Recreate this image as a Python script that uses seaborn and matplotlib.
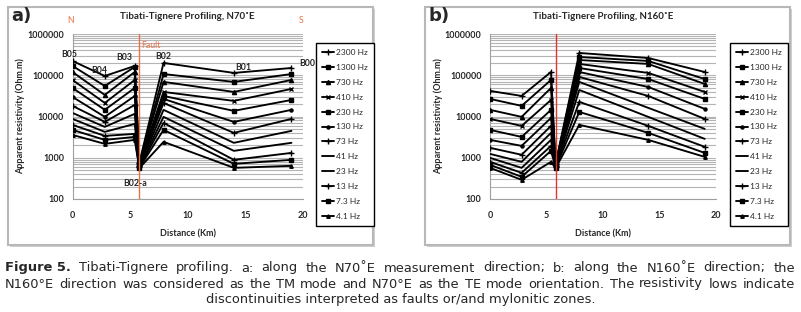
import numpy as np
import pandas as pd
import matplotlib
matplotlib.use('Agg')
import matplotlib.pyplot as plt
import matplotlib.patches as patches
import seaborn as sns

# stations along the profile (km)
stations = [0, 2.8, 5.4, 5.8, 7.9, 14, 19]
freqs = ['2300 Hz', '1300 Hz', '730 Hz', '410 Hz', '230 Hz', '130 Hz',
         '73 Hz', '41 Hz', '23 Hz', '13 Hz', '7.3 Hz', '4.1 Hz']
markers = ['+', 's', '^', 'x', 's', 'o', '+', '', '', '+', 's', '^']
msizes = [4, 3, 3, 3, 2.2, 2.2, 4, 0, 0, 4, 3, 2.5]

# apparent resistivity (Ohm.m), N70E, one row per frequency
rho_a = [
    [222000, 96000, 168000, 760, 199000, 114000, 150000],
    [168000, 55000, 159000, 740, 107000, 69000, 107000],
    [120000, 33300, 120000, 720, 69000, 39400, 77000],
    [77000, 21300, 77000, 700, 39400, 23900, 46600],
    [49300, 14500, 49300, 680, 31500, 13700, 25200],
    [29800, 9800, 31500, 660, 26700, 7400, 14500],
    [18100, 7400, 19100, 640, 21300, 4010, 8750],
    [12200, 5600, 11600, 620, 14500, 2300, 4480],
    [8750, 4240, 6620, 600, 9800, 1470, 2300],
    [6260, 3390, 3790, 590, 7000, 890, 1310],
    [4740, 2710, 3200, 575, 4740, 712, 890],
    [3580, 2170, 2710, 560, 2430, 569, 637],
]

# apparent resistivity (Ohm.m), N160E
rho_b = [
    [41700, 31500, 120000, 700, 347000, 262000, 120000],
    [26700, 18100, 77000, 690, 277000, 222000, 81000],
    [14500, 9800, 49300, 680, 234000, 188000, 61500],
    [8750, 5920, 25200, 670, 188000, 114000, 39400],
    [4740, 3200, 14500, 660, 150000, 81000, 26700],
    [2710, 1940, 9250, 650, 120000, 52000, 15300],
    [1740, 1180, 5920, 640, 91000, 31500, 8750],
    [1240, 796, 4010, 630, 69000, 16200, 5010],
    [995, 569, 2710, 615, 44000, 9800, 2870],
    [796, 431, 1940, 600, 22600, 5920, 1840],
    [673, 345, 1470, 580, 12900, 4010, 1310],
    [569, 292, 796, 560, 6260, 2710, 1050],
]

sns.set_style('white')
plt.rcParams['font.family'] = ['Lato', 'DejaVu Sans']

W, H = 801, 312
fig = plt.figure(figsize=(W / 100, H / 100), dpi=100)


def fx(px):
    return px / W


def fy(py):
    return 1 - py / H


# panel frames (behind everything)
for left in [8, 425]:
    fig.patches.append(patches.Rectangle((fx(left + 2), fy(247)), fx(365), 238 / H,
                                         transform=fig.transFigure, facecolor='#d0d0d0',
                                         edgecolor='none', zorder=-10))
    fig.patches.append(patches.Rectangle((fx(left), fy(245)), fx(365), 238 / H,
                                         transform=fig.transFigure, facecolor='white',
                                         edgecolor='#b8b8b8', lw=1.5, zorder=-9))


def draw_panel(ax, rho, fault_color, title, leg_x, lab_x):
    rows = []
    for f, vals in zip(freqs, rho):
        for s, v in zip(stations, vals):
            rows.append({'freq': f, 'dist': s, 'rho': v})
    df = pd.DataFrame(rows)
    for f, m, ms in zip(freqs, markers, msizes):
        sub = df[df['freq'] == f]
        sns.lineplot(data=sub, x='dist', y='rho', ax=ax, color='black', lw=1.35,
                     marker=m if m else None, markersize=ms, markeredgewidth=1.0,
                     markeredgecolor='black', markerfacecolor='black',
                     label=f, zorder=3)
    ax.set_facecolor('none')
    ax.set_yscale('log')
    ax.set_ylim(100, 1000000)
    ax.set_xlim(0, 20)
    ax.set_yticks([100, 1000, 10000, 100000, 1000000])
    ax.set_yticklabels(['100', '1000', '10000', '100000', '1000000'])
    ax.set_xticks([0, 5, 10, 15, 20])
    ax.set_xticks(np.arange(0, 21, 1), minor=True)
    ax.grid(True, which='both', axis='y', color='#b4b4b4', lw=0.8)
    ax.grid(False, axis='x')
    for sp in ['top', 'right']:
        ax.spines[sp].set_visible(False)
    ax.spines['left'].set_color('#a0a0a0')
    ax.spines['bottom'].set_color('#a0a0a0')
    ax.tick_params(axis='y', which='both', length=0, labelsize=6.5, pad=6)
    ax.tick_params(axis='x', which='major', length=3, color='#a0a0a0', labelsize=6.5, pad=6)
    ax.tick_params(axis='x', which='minor', length=2, color='#a0a0a0')
    for lab in ax.get_xticklabels() + ax.get_yticklabels():
        lab.set_fontweight('bold')
    ax.set_xlabel('Distance (Km)', fontsize=6.5, fontweight='bold')
    ax.xaxis.set_label_coords(0.5, -(229 - 199) / 165)
    ax.set_ylabel('Apparent resistivity (Ohm.m)', fontsize=6.5, fontweight='bold')
    ax.yaxis.set_label_coords(lab_x, 0.5)
    ax.set_title(title, fontsize=7, fontweight='bold', pad=11)
    ax.axvline(5.8, color=fault_color, lw=1.0, zorder=4)
    ax.legend(loc='upper left', bbox_to_anchor=(fx(leg_x), fy(43)),
              bbox_transform=fig.transFigure, fontsize=6.0, frameon=True,
              fancybox=False, edgecolor='black', framealpha=1, handlelength=1.5,
              labelspacing=0.95, borderpad=0.7, handletextpad=0.2, borderaxespad=0)


ax_a = fig.add_axes([fx(72.5), fy(199), fx(230.5), 165 / H])
draw_panel(ax_a, rho_a, '#e8734a', 'Tibati-Tignere Profiling, N70˚E', 316,
           (25 - 72.5) / 230.5)

ax_b = fig.add_axes([fx(490), fy(199), fx(226), 165 / H])
draw_panel(ax_b, rho_b, '#e8312a', 'Tibati-Tignere Profiling, N160˚E', 730,
           (443 - 490) / 226)

# station labels on panel a
for txt, x, y in [('B05', -0.3, 310000), ('B04', 2.3, 134000), ('B03', 4.5, 262000),
                  ('B02', 7.9, 290000), ('B01', 14.8, 152000), ('B00', 20.4, 195000),
                  ('B02-a', 5.4, 243)]:
    ax_a.text(x, y, txt, fontsize=6.3, fontweight='bold', ha='center', va='center',
              clip_on=False, zorder=5)
ax_a.text(6.0, 512000, 'Fault', fontsize=6.3, color='#e8734a', ha='left', va='center')
ax_a.text(-0.2, 1.08, 'N', transform=ax_a.get_xaxis_transform(), fontsize=6.3,
          color='#e8734a', ha='center', va='center')
ax_a.text(19.8, 1.08, 'S', transform=ax_a.get_xaxis_transform(), fontsize=6.3,
          color='#e8734a', ha='center', va='center')

fig.text(fx(11), fy(16), 'a)', fontsize=13, fontweight='bold', family='DejaVu Sans',
         ha='left', va='center')
fig.text(fx(428), fy(16), 'b)', fontsize=13, fontweight='bold', family='DejaVu Sans',
         ha='left', va='center')

# caption
cap_size = 9.4
renderer = fig.canvas.get_renderer()


def justify(words, y, x0=5, x1=795):
    # words: list of (text, weight); spread over x0..x1
    arts = [fig.text(0, fy(y), w, fontsize=cap_size, fontweight=wt, family='DejaVu Sans',
                     ha='left', va='center') for w, wt in words]
    widths = [a.get_window_extent(renderer).width for a in arts]
    gap = (x1 - x0 - sum(widths)) / (len(arts) - 1)
    x = x0
    for a, wdt in zip(arts, widths):
        a.set_x(fx(x))
        x += wdt + gap


line1 = [('Figure 5.', 'bold')] + [
    (w, 'normal') for w in 'Tibati-Tignere profiling. a: along the N70˚E measurement '
    'direction; b: along the N160˚E direction; the'.split()]
line2 = [(w, 'normal') for w in 'N160°E direction was considered as the TM mode and '
         'N70°E as the TE mode orientation. The resistivity lows indicate'.split()]
justify(line1, 268)
justify(line2, 284)
fig.text(0.5, fy(300), 'discontinuities interpreted as faults or/and mylonitic zones.',
         fontsize=cap_size, family='DejaVu Sans', ha='center', va='center')

fig.savefig('out.png', dpi=100)
